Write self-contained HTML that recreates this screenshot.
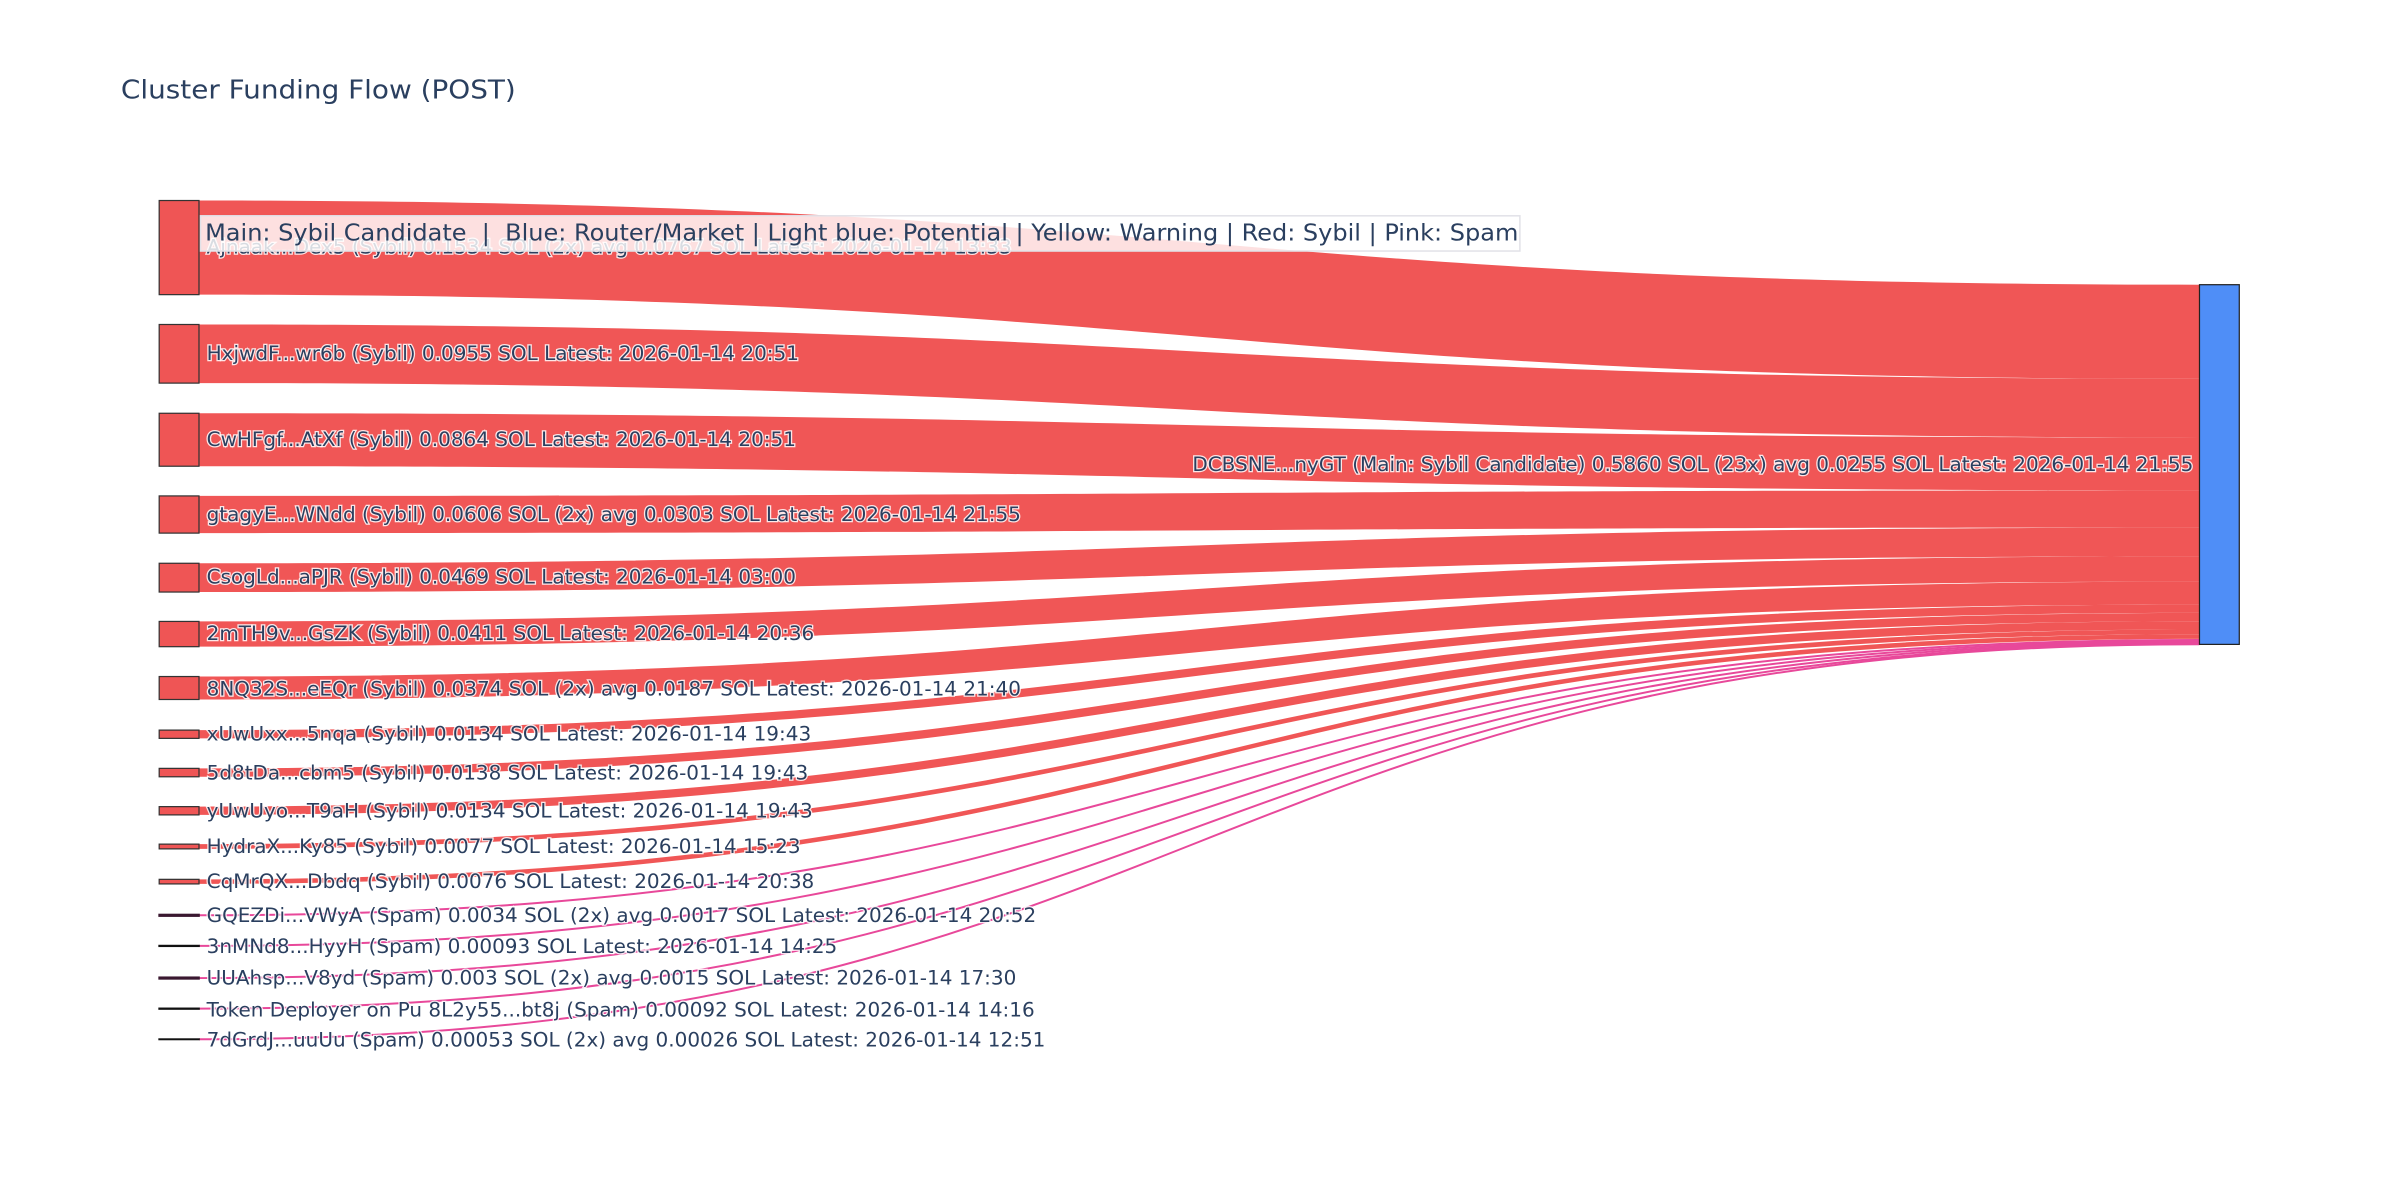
<!DOCTYPE html>
<html><head><meta charset="utf-8"><style>
html,body{margin:0;padding:0;background:#fff;width:2400px;height:1200px;overflow:hidden}
svg{display:block}
.l{font-family:"DejaVu Sans","Liberation Sans",sans-serif;font-size:12.5px;fill:#2a3f5f;dominant-baseline:central;paint-order:stroke;stroke:#fff;stroke-width:1.6px;stroke-opacity:0.85}
.r{fill:#f05656}
.p{fill:none;stroke:#e8489a;stroke-width:1.3}
.n{fill:#ef5555;stroke:#333;stroke-width:0.8}
.t{fill:#111;stroke:#111;stroke-width:1.1}
</style></head><body>
<svg width="2400" height="1200" viewBox="0 0 1568 784" xmlns="http://www.w3.org/2000/svg">
<text x="79" y="59" font-family="DejaVu Sans,Liberation Sans,sans-serif" font-size="17" fill="#2a3f5f" dominant-baseline="central" textLength="258" lengthAdjust="spacingAndGlyphs">Cluster Funding Flow (POST)</text>
<g class="r">
<path d="M130,131 C783.5,131 783.5,186 1437,186 L1437,247.5 C783.5,247.5 783.5,192.5 130,192.5Z"/>
<path d="M130,212 C783.5,212 783.5,247.5 1437,247.5 L1437,285.8 C783.5,285.8 783.5,250.3 130,250.3Z"/>
<path d="M130,270 C783.5,270 783.5,285.8 1437,285.8 L1437,320.4 C783.5,320.4 783.5,304.6 130,304.6Z"/>
<path d="M130,324 C783.5,324 783.5,320.4 1437,320.4 L1437,344.7 C783.5,344.7 783.5,348.3 130,348.3Z"/>
<path d="M130,368 C783.5,368 783.5,344.7 1437,344.7 L1437,363.5 C783.5,363.5 783.5,386.8 130,386.8Z"/>
<path d="M130,406 C783.5,406 783.5,363.5 1437,363.5 L1437,380 C783.5,380 783.5,422.5 130,422.5Z"/>
<path d="M130,442 C783.5,442 783.5,380 1437,380 L1437,395 C783.5,395 783.5,457 130,457Z"/>
<path d="M130,477 C783.5,477 783.5,395 1437,395 L1437,400.4 C783.5,400.4 783.5,482.4 130,482.4Z"/>
<path d="M130,502 C783.5,502 783.5,400.4 1437,400.4 L1437,405.9 C783.5,405.9 783.5,507.5 130,507.5Z"/>
<path d="M130,527 C783.5,527 783.5,405.9 1437,405.9 L1437,411.3 C783.5,411.3 783.5,532.4 130,532.4Z"/>
<path d="M130,551.5 C783.5,551.5 783.5,411.3 1437,411.3 L1437,414.4 C783.5,414.4 783.5,554.6 130,554.6Z"/>
<path d="M130,574.5 C783.5,574.5 783.5,414.4 1437,414.4 L1437,417.4 C783.5,417.4 783.5,577.5 130,577.5Z"/>
</g>
<g class="p">
<path d="M130,598 C783.5,598 783.5,418.1 1437,418.1"/>
<path d="M130,618 C783.5,618 783.5,419 1437,419"/>
<path d="M130,639 C783.5,639 783.5,419.8 1437,419.8"/>
<path d="M130,659 C783.5,659 783.5,420.6 1437,420.6"/>
<path d="M130,679 C783.5,679 783.5,420.9 1437,420.9"/>
</g>
<rect class="n" x="104" y="131" width="26" height="61.5"/>
<rect class="n" x="104" y="212" width="26" height="38.3"/>
<rect class="n" x="104" y="270" width="26" height="34.6"/>
<rect class="n" x="104" y="324" width="26" height="24.3"/>
<rect class="n" x="104" y="368" width="26" height="18.8"/>
<rect class="n" x="104" y="406" width="26" height="16.5"/>
<rect class="n" x="104" y="442" width="26" height="15"/>
<rect class="n" x="104" y="477" width="26" height="5.4"/>
<rect class="n" x="104" y="502" width="26" height="5.5"/>
<rect class="n" x="104" y="527" width="26" height="5.4"/>
<rect class="n" x="104" y="551.5" width="26" height="3.1"/>
<rect class="n" x="104" y="574.5" width="26" height="3"/>
<rect class="t" x="104" y="597.5" width="26" height="1" style="stroke:#3a1830"/>
<rect class="t" x="104" y="617.8" width="26" height="0.4"/>
<rect class="t" x="104" y="638.5" width="26" height="1" style="stroke:#3a1830"/>
<rect class="t" x="104" y="658.8" width="26" height="0.4"/>
<rect class="t" x="104" y="678.9" width="26" height="0.2"/>
<rect x="1437" y="186" width="26" height="235" fill="#4f8ef7" stroke="#222" stroke-width="0.8"/>
<text class="l" x="135" y="161.5" textLength="526" lengthAdjust="spacingAndGlyphs">Ajnaak...Dex5 (Sybil) 0.1534 SOL (2x) avg 0.0767 SOL Latest: 2026-01-14 13:33</text>
<text class="l" x="135" y="231" textLength="387" lengthAdjust="spacingAndGlyphs">HxjwdF...wr6b (Sybil) 0.0955 SOL Latest: 2026-01-14 20:51</text>
<text class="l" x="135" y="287" textLength="385" lengthAdjust="spacingAndGlyphs">CwHFgf...AtXf (Sybil) 0.0864 SOL Latest: 2026-01-14 20:51</text>
<text class="l" x="135" y="336" textLength="532" lengthAdjust="spacingAndGlyphs">gtagyE...WNdd (Sybil) 0.0606 SOL (2x) avg 0.0303 SOL Latest: 2026-01-14 21:55</text>
<text class="l" x="135" y="377" textLength="385" lengthAdjust="spacingAndGlyphs">CsogLd...aPJR (Sybil) 0.0469 SOL Latest: 2026-01-14 03:00</text>
<text class="l" x="135" y="414" textLength="397" lengthAdjust="spacingAndGlyphs">2mTH9v...GsZK (Sybil) 0.0411 SOL Latest: 2026-01-14 20:36</text>
<text class="l" x="135" y="450" textLength="532" lengthAdjust="spacingAndGlyphs">8NQ32S...eEQr (Sybil) 0.0374 SOL (2x) avg 0.0187 SOL Latest: 2026-01-14 21:40</text>
<text class="l" x="135" y="479.5" textLength="395" lengthAdjust="spacingAndGlyphs">xUwUxx...5nqa (Sybil) 0.0134 SOL Latest: 2026-01-14 19:43</text>
<text class="l" x="135" y="505" textLength="393" lengthAdjust="spacingAndGlyphs">5d8tDa...cbm5 (Sybil) 0.0138 SOL Latest: 2026-01-14 19:43</text>
<text class="l" x="135" y="530" textLength="396" lengthAdjust="spacingAndGlyphs">yUwUyo...T9aH (Sybil) 0.0134 SOL Latest: 2026-01-14 19:43</text>
<text class="l" x="135" y="553" textLength="388" lengthAdjust="spacingAndGlyphs">HydraX...Ky85 (Sybil) 0.0077 SOL Latest: 2026-01-14 15:23</text>
<text class="l" x="135" y="576" textLength="397" lengthAdjust="spacingAndGlyphs">CqMrQX...Dbdq (Sybil) 0.0076 SOL Latest: 2026-01-14 20:38</text>
<text class="l" x="135" y="598" textLength="542" lengthAdjust="spacingAndGlyphs">GQEZDi...VWyA (Spam) 0.0034 SOL (2x) avg 0.0017 SOL Latest: 2026-01-14 20:52</text>
<text class="l" x="135" y="618.5" textLength="412" lengthAdjust="spacingAndGlyphs">3nMNd8...HyyH (Spam) 0.00093 SOL Latest: 2026-01-14 14:25</text>
<text class="l" x="135" y="639" textLength="529" lengthAdjust="spacingAndGlyphs">UUAhsp...V8yd (Spam) 0.003 SOL (2x) avg 0.0015 SOL Latest: 2026-01-14 17:30</text>
<text class="l" x="135" y="660" textLength="541" lengthAdjust="spacingAndGlyphs">Token Deployer on Pu 8L2y55...bt8j (Spam) 0.00092 SOL Latest: 2026-01-14 14:16</text>
<text class="l" x="135" y="679.5" textLength="548" lengthAdjust="spacingAndGlyphs">7dGrdJ...uuUu (Spam) 0.00053 SOL (2x) avg 0.00026 SOL Latest: 2026-01-14 12:51</text>
<text class="l" x="779" y="303.5" textLength="654" lengthAdjust="spacingAndGlyphs">DCBSNE...nyGT (Main: Sybil Candidate) 0.5860 SOL (23x) avg 0.0255 SOL Latest: 2026-01-14 21:55</text>
<rect x="131" y="141" width="862" height="23" fill="#fff" fill-opacity="0.82" stroke="#e2e2e8" stroke-width="1"/>
<text x="134" y="152.5" font-family="DejaVu Sans,Liberation Sans,sans-serif" font-size="15" fill="#2a3f5f" dominant-baseline="central" textLength="858" lengthAdjust="spacingAndGlyphs" xml:space="preserve">Main: Sybil Candidate  |  Blue: Router/Market | Light blue: Potential | Yellow: Warning | Red: Sybil | Pink: Spam</text>
</svg>
</body></html>
